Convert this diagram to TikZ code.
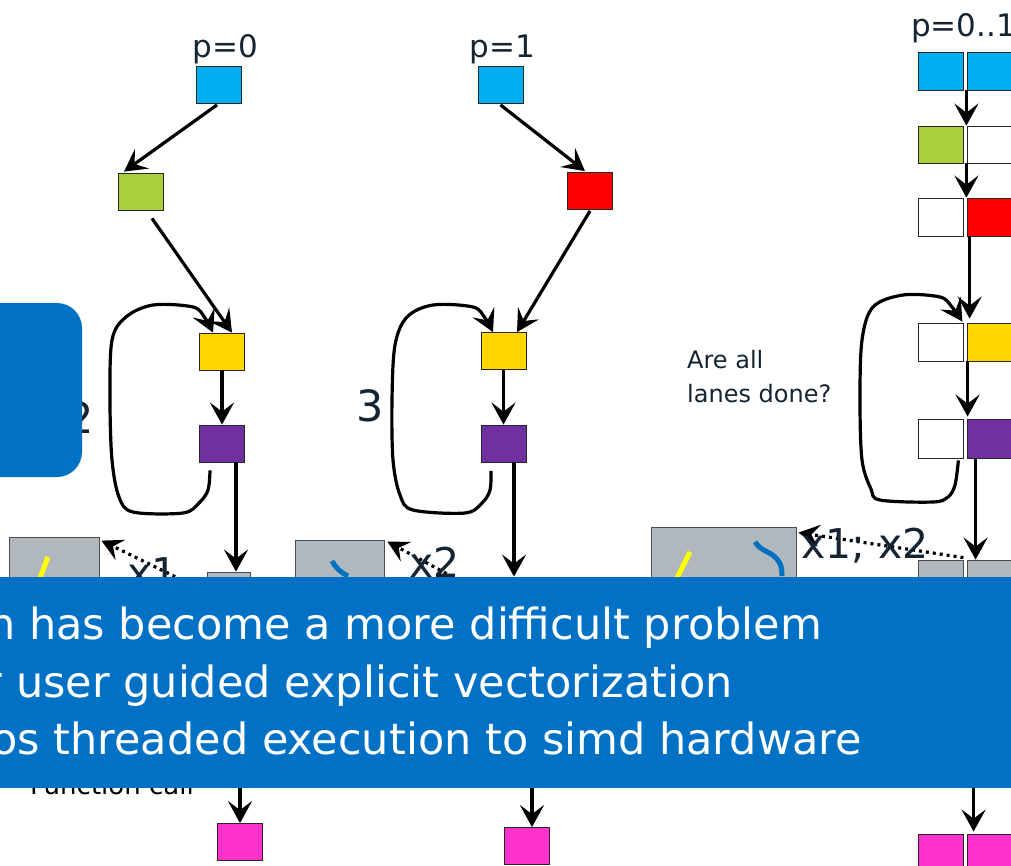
\documentclass[tikz,border=0pt]{standalone}
\usepackage{fontspec}
\setmainfont{DejaVu Sans}
\usetikzlibrary{arrows.meta}

\definecolor{cellblue}{RGB}{0,176,240}
\definecolor{cellgreen}{RGB}{169,208,60}
\definecolor{cellred}{RGB}{255,0,0}
\definecolor{cellyellow}{RGB}{255,215,0}
\definecolor{cellpurple}{RGB}{112,48,160}
\definecolor{cellpink}{RGB}{255,51,204}
\definecolor{cellgray}{RGB}{176,184,189}
\definecolor{bannerblue}{RGB}{0,113,197}
\definecolor{ink}{RGB}{20,36,50}
\definecolor{strokeblue}{RGB}{0,112,192}
\definecolor{strokeyellow}{RGB}{255,255,0}

\tikzset{
  cell/.style={draw=black!85, line width=0.8pt, minimum width=45pt,
    minimum height=37pt, inner sep=0pt},
  graybox/.style={cell, fill=cellgray, draw=black!70},
  flow/.style={line width=3.2pt, draw=black,
    -{Stealth[length=22pt,width=24pt,inset=9pt]}},
  retry/.style={flow, line join=round},
  callarrow/.style={line width=3.2pt, draw=black, dash pattern=on 3pt off 4pt,
    -{Stealth[length=21pt,width=22pt,inset=8pt]}},
  lbl/.style={text=ink, inner sep=0pt},
  pfont/.style={font=\fontsize{31}{36}\selectfont},
  bigfont/.style={font=\fontsize{43}{50}\selectfont},
  xfont/.style={font=\fontsize{41}{46}\selectfont},
  bannertext/.style={text=white, inner sep=0pt, anchor=base east,
    font=\fontsize{43}{57}\selectfont},
}

\begin{document}
\begin{tikzpicture}[x=1pt,y=-1pt]
\useasboundingbox (0,0) rectangle (1011,865);
\clip (0,0) rectangle (1011,865);

% ---------- lane p=0 ----------
\node[lbl,pfont,anchor=base] (t0) at (225.5,57) {p=0};
\node[cell,fill=cellblue]   (b0) at (219,85) {};
\node[cell,fill=cellgreen]  (g0) at (140.5,191.5) {};
\node[cell,fill=cellyellow] (y0) at (222,351.5) {};
\node[cell,fill=cellpurple] (v0) at (222,443.5) {};
\node[graybox,minimum width=43pt,minimum height=40pt] (gr0) at (228.5,592) {};
\node[cell,fill=cellpink]   (pk0) at (240,842) {};
\node[graybox,minimum width=90pt,minimum height=60pt] (gs0) at (54,567) {};
\draw[strokeyellow,line width=5pt] (48,557) -- (40,578);

\draw[flow] ([xshift=-2pt,yshift=-1pt]b0.south) -- ([xshift=-16.5pt,yshift=1pt]g0.north);
\draw[flow] ([xshift=11.5pt,yshift=-8pt]g0.south) -- ([xshift=10pt]y0.north);
\draw[flow] (y0.south) -- (v0.north);
\coordinate (l0s) at ([xshift=-12pt,yshift=-8pt]v0.south);
\coordinate (l0e) at ([xshift=-9pt]y0.north);
\draw[retry] plot[smooth,tension=0.55] coordinates {(l0s) (208,490) (199,503) (183,513)
  (133,512) (119,497) (112,460) (110,400) (112,340) (126,317) (153,305) (193,307) (205,318) (l0e)};
\draw[flow] ([xshift=14pt]v0.south) -- ([xshift=14pt]v0.south |- gr0.north);
\coordinate (pk0top) at (pk0.north);
\draw[flow] (pk0top |- gr0.south) -- (pk0top);
\draw[callarrow] (gr0.west) -- ([xshift=2pt,yshift=-4pt]gs0.north east);
\node[lbl,xfont,anchor=base west] (x0) at (127,587) {x1};

% ---------- lane p=1 ----------
\node[lbl,pfont,anchor=base] (t1) at (502.5,57) {p=1};
\node[cell,fill=cellblue]   (b1) at (500.5,85) {};
\node[cell,fill=cellred]    (r1) at (590,191) {};
\node[cell,fill=cellyellow] (y1) at (503.5,351) {};
\node[cell,fill=cellpurple] (v1) at (503.5,443.5) {};
\node[graybox,minimum width=44pt,minimum height=40pt] (gr1) at (512,597) {};
\node[cell,fill=cellpink]   (pk1) at (527,846) {};
\node[graybox,minimum width=89pt,minimum height=60pt] (gs1) at (339.5,570) {};
\draw[strokeblue,line width=5pt] (332,561) .. controls (336,568) and (340,572) .. (348,576);

\draw[flow] ([yshift=-1pt]b1.south) -- ([xshift=-5pt,yshift=1pt]r1.north);
\draw[flow] ([yshift=-1pt]r1.south) -- ([xshift=13.5pt]y1.north);
\draw[flow] (y1.south) -- (v1.north);
\coordinate (l1s) at ([xshift=-12.5pt,yshift=-8.5pt]v1.south);
\coordinate (l1e) at ([xshift=-10.5pt]y1.north);
\draw[retry] plot[smooth,tension=0.55] coordinates {(l1s) (490,490) (482,503) (465,513)
  (413,510) (400,495) (393,460) (392,400) (395,345) (407,317) (433,305) (473,307) (485,318) (l1e)};
\draw[flow] ([xshift=10.5pt]v1.south) -- ([xshift=10.5pt]v1.south |- gr1.north);
\coordinate (pk1top) at ([xshift=5pt]pk1.north);
\draw[flow] (pk1top |- gr1.south) -- (pk1top);
\draw[callarrow] (gr1.west) -- ([xshift=3pt,yshift=-2pt]gs1.north east);
\node[lbl,xfont,anchor=base west] (x1) at (409,577) {x2};
\node[lbl,bigfont] (n3) at (370,406) {3};

% ---------- both lanes together, p=0..1 ----------
\node[lbl,pfont,anchor=base west] (t2) at (911,36) {p=0..1};
\node[cell,fill=cellblue,minimum height=38pt]   (c1l) at (940.5,71) {};
\node[cell,fill=cellblue,minimum height=38pt]   (c1r) at (989.5,71) {};
\node[cell,fill=cellgreen]  (c2l) at (940.5,144.5) {};
\node[cell,fill=white]      (c2r) at (989.5,144.5) {};
\node[cell,fill=white,minimum height=38pt]      (c3l) at (940.5,217) {};
\node[cell,fill=cellred,minimum height=38pt]    (c3r) at (989.5,217) {};
\node[cell,fill=white,minimum height=38pt]      (c4l) at (940.5,342) {};
\node[cell,fill=cellyellow,minimum height=38pt] (c4r) at (989.5,342) {};
\node[cell,fill=white,minimum height=39pt]      (c5l) at (940.5,438.5) {};
\node[cell,fill=cellpurple,minimum height=39pt] (c5r) at (989.5,438.5) {};
\node[graybox,minimum height=40pt] (c6l) at (940.5,580) {};
\node[graybox,minimum height=40pt] (c6r) at (989.5,580) {};
\node[cell,fill=cellpink,minimum height=38pt]   (c7l) at (940.5,853) {};
\node[cell,fill=cellpink,minimum height=38pt]   (c7r) at (989.5,853) {};
\node[graybox,minimum width=145pt,minimum height=66pt] (gb) at (723.5,560) {};
\draw[strokeyellow,line width=5pt] (690,552) -- (677,578);
\draw[strokeblue,line width=5pt] (755,542) .. controls (762,552) and (768,550) .. (776,558)
  .. controls (781,563) and (782,568) .. (782,576);

\draw[flow] ([xshift=3pt]c1l.south east) -- ([xshift=3pt]c2l.north east);
\draw[flow] ([xshift=3pt]c2l.south east) -- ([xshift=3pt]c3l.north east);
\draw[flow] ([xshift=3pt]c3r.south west) -- ([xshift=3pt,yshift=4pt]c4r.north west);
\draw[flow] ([xshift=1pt]c4r.south west) -- ([xshift=1pt,yshift=2pt]c5r.north west);
\coordinate (l2s) at ([xshift=-5pt,yshift=-2pt]c5l.south east);
\coordinate (l2e) at ([xshift=-1pt,yshift=1pt]c4l.north east);
\draw[retry] plot[smooth,tension=0.55] coordinates {(l2s) (955,485) (948,497) (933,502)
  (880,500) (871,489) (862,460) (860,400) (862,340) (873,307) (903,295) (940,297) (952,307) (l2e)};
\draw[flow] ([xshift=9pt]c5r.south west) -- ([xshift=9pt]c6r.north west);
\draw[flow] ([xshift=7pt]c6r.south west) -- ([xshift=7pt,yshift=2pt]c7r.north west);
\draw[callarrow] ([yshift=2pt]c6l.north east) -- ([xshift=2pt,yshift=-6pt]gb.north east);
\node[lbl,xfont,anchor=base west] (x2) at (801,558) {x1; x2};

\node[lbl,font=\fontsize{24}{34}\selectfont,anchor=north west,align=left] (q) at (687,350)
  {Are all\\lanes done?};

% ---------- text sitting under the overlays ----------
\node[lbl,bigfont] (n2) at (80,418) {2};
\node[lbl,text=black,font=\fontsize{26}{30}\selectfont,anchor=base west] (fc) at (30,794) {Function call};

% ---------- overlays ----------
\fill[bannerblue, rounded corners=25pt] (-40,303) rectangle (82,477);
\fill[bannerblue] (-5,577) rectangle (1016,788);
\node[bannertext] (s1) at (822,639) {n has become a more difficult problem};
\node[bannertext] (s2) at (733,697) {r user guided explicit vectorization};
\node[bannertext] (s3) at (862,754) {os threaded execution to simd hardware};
\end{tikzpicture}
\end{document}
